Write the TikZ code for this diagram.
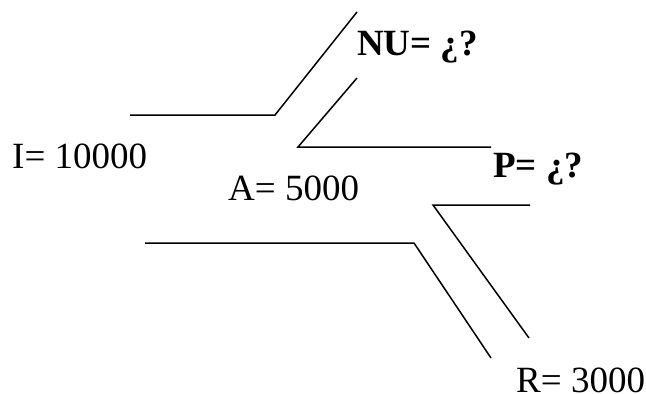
\documentclass[tikz,border=0pt]{standalone}
\usepackage{fontspec}
\setmainfont{Liberation Serif}
\tikzset{
  pipe/.style={line width=1.5pt, color=black, line join=miter},
  flow/.style={anchor=base west, inner sep=0pt, font=\fontsize{37}{44}\selectfont},
  ask/.style={flow, font=\fontsize{37}{44}\selectfont\bfseries}
}

\begin{document}
\begin{tikzpicture}[x=1pt, y=-1pt]
\useasboundingbox (0,0) rectangle (646,394);
% channel walls
\draw[pipe] (130,115) -- (275,115) -- (357,12);
\draw[pipe] (357,78) -- (298,147) -- (491,147);
\draw[pipe] (530,205) -- (433,205) -- (529,338);
\draw[pipe] (145,243) -- (414,243) -- (491,358);
% flows
\node[flow] (inflow) at (12,168) {I= 10000};
\node[flow] (store) at (228,200) {A= 5000};
\node[ask] (nu) at (357,55) {NU= ¿?};
\node[ask] (prod) at (493,177) {P= ¿?};
\node[flow] (rest) at (516,392) {R= 3000};
\end{tikzpicture}
\end{document}
